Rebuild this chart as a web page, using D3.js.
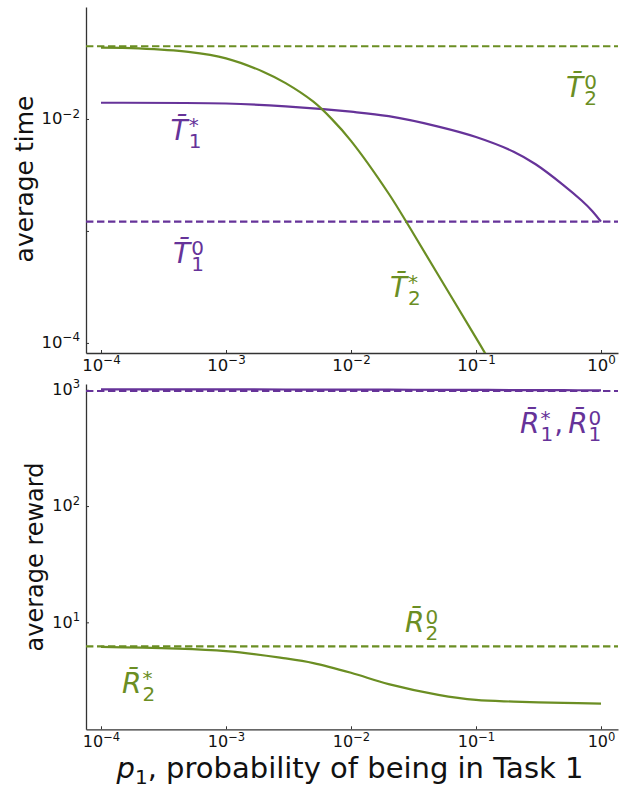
<!DOCTYPE html>
<html>
<head>
<meta charset="utf-8">
<script src="https://cdn.jsdelivr.net/npm/d3@7"></script>
<style>
  body { margin: 0; background: #fff; }
  svg { display: block; font-family: "DejaVu Sans", sans-serif; }
</style>
</head>
<body>
<div id="chart"></div>
<script>
// p1 samples for each curve
const pT2 = [1e-4, 2e-4, 5e-4, 1e-3, 2e-3, 3e-3, 5e-3, 7e-3, 1e-2, 2e-2, 3e-2, 5e-2, 0.1, 0.13];
const T2star = [0.0434, 0.0427, 0.0397, 0.0348, 0.0263, 0.0209, 0.01426, 0.01002, 0.00638, 0.00216, 0.00104, 0.000402, 0.000111, 0.0000676];

const pT1 = [1e-4, 1e-3, 3e-3, 1e-2, 2e-2, 5e-2, 0.1, 0.2, 0.3, 0.5, 0.7, 0.85, 1];
const T1star = [0.01396, 0.01374, 0.01297, 0.01161, 0.01059, 0.00855, 0.0069, 0.0051, 0.00394, 0.00257, 0.00187, 0.00151, 0.00121];

const T1zero = 0.00121;
const T2zero = 0.0446;

const pR = [1e-4, 1e-3, 3e-3, 5e-3, 1e-2, 2e-2, 5e-2, 0.1, 0.2, 0.5, 1];
const R2star = [6.14, 5.65, 4.89, 4.46, 3.68, 2.94, 2.38, 2.15, 2.08, 2.03, 2.0];
const R1star = [1009, 1008, 1006, 1005, 1004, 1002, 1000, 998, 995, 992, 990];

const R1zero = 977;
const R2zero = 6.22;

const xTicks = [-4, -3, -2, -1, 0];
const yTicksTop = [-4, -3, -2];
const yLabelsTop = [-4, -2];
const yTicksBottom = [1, 2, 3];

const purple = "#663399";
const green = "#6b8e23";

const W = 619, H = 787;
const svg = d3.select("#chart").append("svg").attr("width", W).attr("height", H);

const x = d3.scaleLog().domain([10 ** -4.12, 10 ** 0.136]).range([86, 618]);
const yTop = d3.scaleLog().domain([10 ** -4.09, 10 ** -1.0]).range([353, 7]);
const yBot = d3.scaleLog().domain([10 ** 0.08, 10 ** 3.05]).range([729.3, 384]);

function powLabel(sel, exp, size) {
  sel.text(null);
  sel.append("tspan").text("10");
  sel.append("tspan").attr("font-size", size * 0.72).attr("dy", -size * 0.42)
    .text(String(exp).replace("-", "\u2212"));
}

function drawPanel(y, yTicks, yLabels, tickSize) {
  const x0 = x.range()[0], y0 = y.range()[0];
  const gx = svg.append("g").attr("transform", `translate(0,${y0})`)
    .call(d3.axisBottom(x).tickValues(xTicks.map(e => 10 ** e)).tickSize(-3).tickSizeOuter(0))
    .attr("font-family", null).attr("font-size", tickSize);
  gx.selectAll(".tick text").each(function (d) {
    const t = d3.select(this).attr("y", 18).attr("dy", 0).attr("fill", "#111");
    powLabel(t, Math.round(Math.log10(d)), tickSize);
  });
  const gy = svg.append("g").attr("transform", `translate(${x0},0)`)
    .call(d3.axisLeft(y).tickValues(yTicks.map(e => 10 ** e)).tickSize(-3).tickSizeOuter(0))
    .attr("font-family", null).attr("font-size", tickSize);
  gy.selectAll(".tick text").each(function (d) {
    const e = Math.round(Math.log10(d));
    const t = d3.select(this).attr("x", -6).attr("dy", "0.3em").attr("fill", "#111");
    if (yLabels.includes(e)) powLabel(t, e, tickSize); else t.text("");
  });
  svg.selectAll(".domain").attr("stroke", "#333").attr("stroke-width", 1.3);
  svg.selectAll(".tick line").attr("stroke", "#333");
}

drawPanel(yTop, yTicksTop, yLabelsTop, 16.5);
drawPanel(yBot, yTicksBottom, yTicksBottom, 16);

function clip(id, y) {
  svg.append("clipPath").attr("id", id).append("rect")
    .attr("x", x.range()[0]).attr("y", y.range()[1])
    .attr("width", x.range()[1] - x.range()[0]).attr("height", y.range()[0] - y.range()[1]);
}
clip("clipTop", yTop);
clip("clipBot", yBot);

function curve(y, ps, vs, color, clipId) {
  const line = d3.line().x(d => x(d[0])).y(d => y(d[1])).curve(d3.curveCatmullRom.alpha(0.5));
  svg.append("path").datum(ps.map((p, i) => [p, vs[i]]))
    .attr("clip-path", `url(#${clipId})`)
    .attr("fill", "none").attr("stroke", color).attr("stroke-width", 2.2).attr("d", line);
}
function hline(y, v, color, clipId) {
  const [a, b] = x.domain();
  svg.append("line").attr("clip-path", `url(#${clipId})`)
    .attr("x1", x(a)).attr("x2", x(b)).attr("y1", y(v)).attr("y2", y(v))
    .attr("stroke", color).attr("stroke-width", 2.2).attr("stroke-dasharray", "7.4,3.6");
}

hline(yTop, T2zero, green, "clipTop");
hline(yTop, T1zero, purple, "clipTop");
curve(yTop, pT1, T1star, purple, "clipTop");
curve(yTop, pT2, T2star, green, "clipTop");

hline(yBot, R1zero, purple, "clipBot");
hline(yBot, R2zero, green, "clipBot");
curve(yBot, pR, R1star, purple, "clipBot");
curve(yBot, pR, R2star, green, "clipBot");

// math-style labels: barred italic letter with stacked sub/superscript, one text each
function label(y, p, v, color, syms) {
  const t = svg.append("text").attr("transform", `translate(${x(p)},${y(v)})`).attr("fill", color);
  let cur = 0;
  syms.forEach((s, i) => {
    if (i > 0) {
      const c = t.append("tspan").attr("x", cur + 1).attr("y", 0).attr("font-size", 28).text(",");
      cur += 1 + c.node().getComputedTextLength() + 5;
    }
    const m = t.append("tspan").attr("x", cur).attr("y", 0).attr("font-size", 28)
      .attr("font-style", "italic").text(s[0] + "\u0304");
    const w = m.node().getComputedTextLength();
    const a = t.append("tspan").attr("x", cur + w + 1).attr("y", 8).attr("font-size", 20).text(s[1]);
    const b = t.append("tspan").attr("x", cur + w + 1).attr("y", -8).attr("font-size", 20).text(s[2]);
    cur += w + 1 + Math.max(a.node().getComputedTextLength(), b.node().getComputedTextLength());
  });
}

label(yTop, 3.6e-4, 0.0065, purple, [["T", "1", "*"]]);
label(yTop, 3.77e-4, 5.18e-4, purple, [["T", "1", "0"]]);
label(yTop, 0.0205, 2.57e-4, green, [["T", "2", "*"]]);
label(yTop, 0.525, 0.0157, green, [["T", "2", "0"]]);
label(yBot, 0.225, 425, purple, [["R", "1", "*"], ["R", "1", "0"]]);
label(yBot, 0.027, 8.22, green, [["R", "2", "0"]]);
label(yBot, 1.47e-4, 2.47, green, [["R", "2", "*"]]);

// axis titles
svg.append("text").attr("transform", "translate(33,179) rotate(-90)")
  .attr("text-anchor", "middle").attr("font-size", 25).attr("fill", "#111").text("average time");
svg.append("text").attr("transform", "translate(43,557) rotate(-90)")
  .attr("text-anchor", "middle").attr("font-size", 24).attr("fill", "#111").text("average reward");

const xl = svg.append("text").attr("x", 350).attr("y", 778).attr("text-anchor", "middle")
  .attr("font-size", 29).attr("fill", "#111");
xl.append("tspan").attr("font-style", "italic").text("p");
xl.append("tspan").attr("font-size", 20).attr("dy", 6).text("1");
xl.append("tspan").attr("dy", -6).text(", probability of being in Task 1");
</script>
</body>
</html>
